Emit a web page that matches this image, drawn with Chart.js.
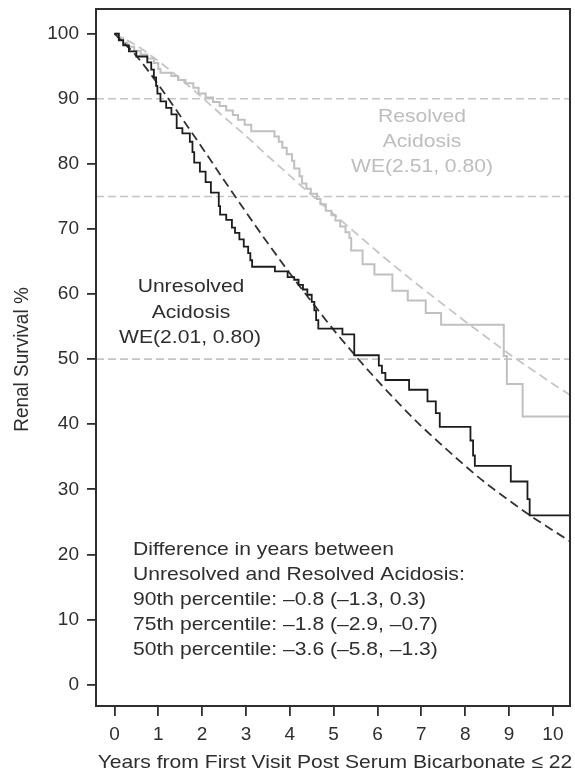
<!DOCTYPE html>
<html>
<head>
<meta charset="utf-8">
<title>Renal survival by acidosis status</title>
<script src="https://cdn.jsdelivr.net/npm/chart.js@4.4.1/dist/chart.umd.min.js"></script>
<style>
  html, body { margin: 0; padding: 0; background: #fff; }
  #wrap { width: 575px; height: 772px; }
</style>
</head>
<body>
<div id="wrap"><canvas id="c" width="575" height="772"></canvas></div>
<script>
// Axis ticks
const xTicks = [0, 1, 2, 3, 4, 5, 6, 7, 8, 9, 10];
const yTicks = [0, 10, 20, 30, 40, 50, 60, 70, 80, 90, 100];
const xMin = -0.42, xMax = 10.39;
const yMin = -3.29, yMax = 103.8;

// Kaplan-Meier estimate, unresolved acidosis (years, survival %)
const unresolvedTimes = [0, 0.1, 0.2, 0.33, 0.5, 0.75, 0.84, 0.9, 0.95, 0.98, 1.05, 1.18, 1.3, 1.42, 1.55, 1.72, 1.78, 1.82,
  1.95, 2.08, 2.2, 2.38, 2.41, 2.55, 2.68, 2.75, 2.85, 2.95, 3.05, 3.1, 3.14, 3.66, 3.95, 4.1, 4.2, 4.3, 4.4, 4.5,
  4.56, 4.6, 4.65, 5.2, 5.47, 6.03, 6.1, 6.18, 6.72, 7.14, 7.33, 7.42, 8.12, 8.18, 8.22, 9.04, 9.42, 9.47, 10.39];
const unresolvedSurv = [100, 99.0, 98.2, 97.3, 96.5, 95.6, 94.5, 93.3, 92.0, 90.8, 89.6, 88.6, 87.6, 85.5, 84.7, 83.4, 81.8, 80.2,
  78.8, 77.2, 75.6, 73.5, 72.2, 71.4, 70.2, 69.4, 68.4, 67.3, 66.3, 65.2, 64.2, 63.5, 62.6, 62.2, 61.4, 60.7, 59.9, 58.8,
  57.5, 56.0, 54.7, 53.8, 50.6, 49.0, 47.9, 46.8, 45.3, 43.5, 41.7, 39.6, 37.5, 35.2, 33.6, 31.2, 28.5, 26.0, 26.0];

// Kaplan-Meier estimate, resolved acidosis
const resolvedTimes = [0, 0.1, 0.2, 0.3, 0.45, 0.6, 0.75, 0.9, 1.0, 1.05, 1.3, 1.45, 1.62, 1.8, 1.92, 2.08, 2.25, 2.4, 2.55,
  2.7, 2.82, 2.97, 3.12, 3.65, 3.75, 3.83, 3.93, 4.05, 4.1, 4.22, 4.28, 4.38, 4.48, 4.62, 4.7, 4.82, 4.95, 5.04, 5.15,
  5.27, 5.36, 5.4, 5.66, 5.93, 6.34, 6.69, 7.1, 7.45, 8.88, 8.95, 9.31, 10.39];
const resolvedSurv = [100, 99.3, 98.6, 98.0, 97.4, 96.8, 96.2, 95.5, 94.6, 94.0, 93.5, 92.9, 92.4, 91.7, 90.8, 90.2, 89.5, 88.9, 88.2,
  87.5, 86.8, 86.0, 85.0, 84.2, 83.4, 82.5, 81.5, 80.5, 79.3, 78.1, 77.0, 76.2, 75.4, 74.6, 73.8, 72.8, 72.1, 71.3, 70.4,
  69.5, 68.6, 66.7, 64.6, 63.0, 60.5, 59.0, 57.1, 55.3, 50.5, 46.2, 41.2, 41.2];

// Fitted Weibull curves
const fitTimes = [0, 0.5, 1, 1.5, 2, 2.5, 3, 3.5, 4, 4.5, 5, 5.5, 6, 6.5, 7, 7.5, 8, 8.5, 9, 9.5, 10, 10.39];
const unresolvedFit = [100, 96.6, 92.2, 87.4, 82.5, 77.5, 72.6, 67.8, 63.2, 58.8, 54.5, 50.5, 46.7, 43.1, 39.7, 36.6, 33.6, 30.8, 28.3, 25.9, 23.7, 22.0];
const resolvedFit = [100, 98.2, 95.8, 93.1, 90.2, 87.2, 84.3, 81.2, 78.2, 75.2, 72.3, 69.4, 66.5, 63.7, 61.0, 58.4, 55.8, 53.3, 50.8, 48.5, 46.2, 44.5];

// Percentile reference levels
const refLevels = [90, 75, 50];

const FONT = '"Liberation Sans", Arial, Helvetica, sans-serif';
const DARK = '#2e2e2e';
const LIGHT = '#bdbdbd';
const FSIZE = 19;
const XSTRETCH = 1.11;

const toPts = (xs, ys) => xs.map((x, i) => ({ x: x, y: ys[i] }));

const datasets = [];
refLevels.forEach(v => {
  datasets.push({
    data: [{ x: xMin, y: v }, { x: xMax, y: v }],
    borderColor: '#c4c4c4', borderWidth: 1.6, borderDash: [8, 4],
    pointRadius: 0, order: 5
  });
});
datasets.push({
  data: toPts(fitTimes, resolvedFit), borderColor: '#c6c6c6', borderWidth: 1.8,
  borderDash: [9, 5], cubicInterpolationMode: 'monotone', pointRadius: 0, order: 4
});
datasets.push({
  data: toPts(resolvedTimes, resolvedSurv), borderColor: '#c0c0c0', borderWidth: 2,
  stepped: true, pointRadius: 0, order: 3
});
datasets.push({
  data: toPts(fitTimes, unresolvedFit), borderColor: '#333333', borderWidth: 1.8,
  borderDash: [9, 5], cubicInterpolationMode: 'monotone', pointRadius: 0, order: 2
});
datasets.push({
  data: toPts(unresolvedTimes, unresolvedSurv), borderColor: '#1c1c1c', borderWidth: 1.8,
  stepped: true, pointRadius: 0, order: 1
});

// Text drawn with a slight horizontal widening of the glyphs
function wideText(ctx, text, x, y, align, color) {
  ctx.save();
  ctx.font = FSIZE + 'px ' + FONT;
  ctx.fillStyle = color;
  ctx.textBaseline = 'middle';
  ctx.textAlign = align;
  ctx.translate(x, y);
  ctx.scale(XSTRETCH, 1);
  ctx.fillText(text, 0, 0);
  ctx.restore();
}

const annotations = {
  id: 'annotations',
  afterDraw(chart) {
    const ctx = chart.ctx;
    const a = chart.chartArea;
    // plot frame
    ctx.save();
    ctx.strokeStyle = DARK;
    ctx.lineWidth = 2;
    ctx.strokeRect(a.left, a.top, a.right - a.left, a.bottom - a.top);
    ctx.restore();

    // group labels
    wideText(ctx, 'Unresolved', 191, 287, 'center', DARK);
    wideText(ctx, 'Acidosis', 191, 313, 'center', DARK);
    wideText(ctx, 'WE(2.01, 0.80)', 190, 338, 'center', DARK);

    wideText(ctx, 'Resolved', 422, 117, 'center', LIGHT);
    wideText(ctx, 'Acidosis', 422, 142, 'center', LIGHT);
    wideText(ctx, 'WE(2.51, 0.80)', 422, 167, 'center', LIGHT);

    const diff = [
      'Difference in years between',
      'Unresolved and Resolved Acidosis:',
      '90th percentile: \u20130.8 (\u20131.3, 0.3)',
      '75th percentile: \u20131.8 (\u20132.9, \u20130.7)',
      '50th percentile: \u20133.6 (\u20135.8, \u20131.3)'
    ];
    diff.forEach((t, i) => wideText(ctx, t, 133, 550 + i * 25, 'left', DARK));

    // axis titles
    wideText(ctx, 'Years from First Visit Post Serum Bicarbonate \u2264 22', (a.left + a.right) / 2 + 2, 763, 'center', DARK);
    ctx.save();
    ctx.font = FSIZE + 'px ' + FONT;
    ctx.fillStyle = DARK;
    ctx.textAlign = 'center';
    ctx.textBaseline = 'middle';
    ctx.translate(22, (a.top + a.bottom) / 2 + 2);
    ctx.scale(XSTRETCH, 1);
    ctx.rotate(-Math.PI / 2);
    ctx.fillText('Renal Survival %', 0, 0);
    ctx.restore();
  }
};

new Chart(document.getElementById('c'), {
  type: 'line',
  data: { datasets: datasets },
  plugins: [annotations],
  options: {
    responsive: false,
    animation: false,
    events: [],
    layout: { padding: { top: 9, right: 5, left: 0, bottom: 0 } },
    plugins: { legend: { display: false }, tooltip: { enabled: false } },
    scales: {
      x: {
        type: 'linear', min: xMin, max: xMax,
        afterBuildTicks: s => { s.ticks = xTicks.map(v => ({ value: v })); },
        afterFit: s => { s.height = 66; s.paddingLeft = 0; s.paddingRight = 0; },
        border: { display: false },
        grid: { drawOnChartArea: false, drawTicks: true, tickLength: 10, color: DARK, lineWidth: 1.8 },
        ticks: { color: DARK, padding: 7, font: { family: FONT, size: FSIZE }, maxRotation: 0, autoSkip: false }
      },
      y: {
        type: 'linear', min: yMin, max: yMax,
        afterBuildTicks: s => { s.ticks = yTicks.map(v => ({ value: v })); },
        afterFit: s => { s.width = 96; s.paddingTop = 0; s.paddingBottom = 0; },
        border: { display: false },
        grid: { drawOnChartArea: false, drawTicks: true, tickLength: 9, color: DARK, lineWidth: 1.8 },
        ticks: { color: DARK, padding: 8, font: { family: FONT, size: FSIZE }, autoSkip: false }
      }
    }
  }
});
</script>
</body>
</html>
